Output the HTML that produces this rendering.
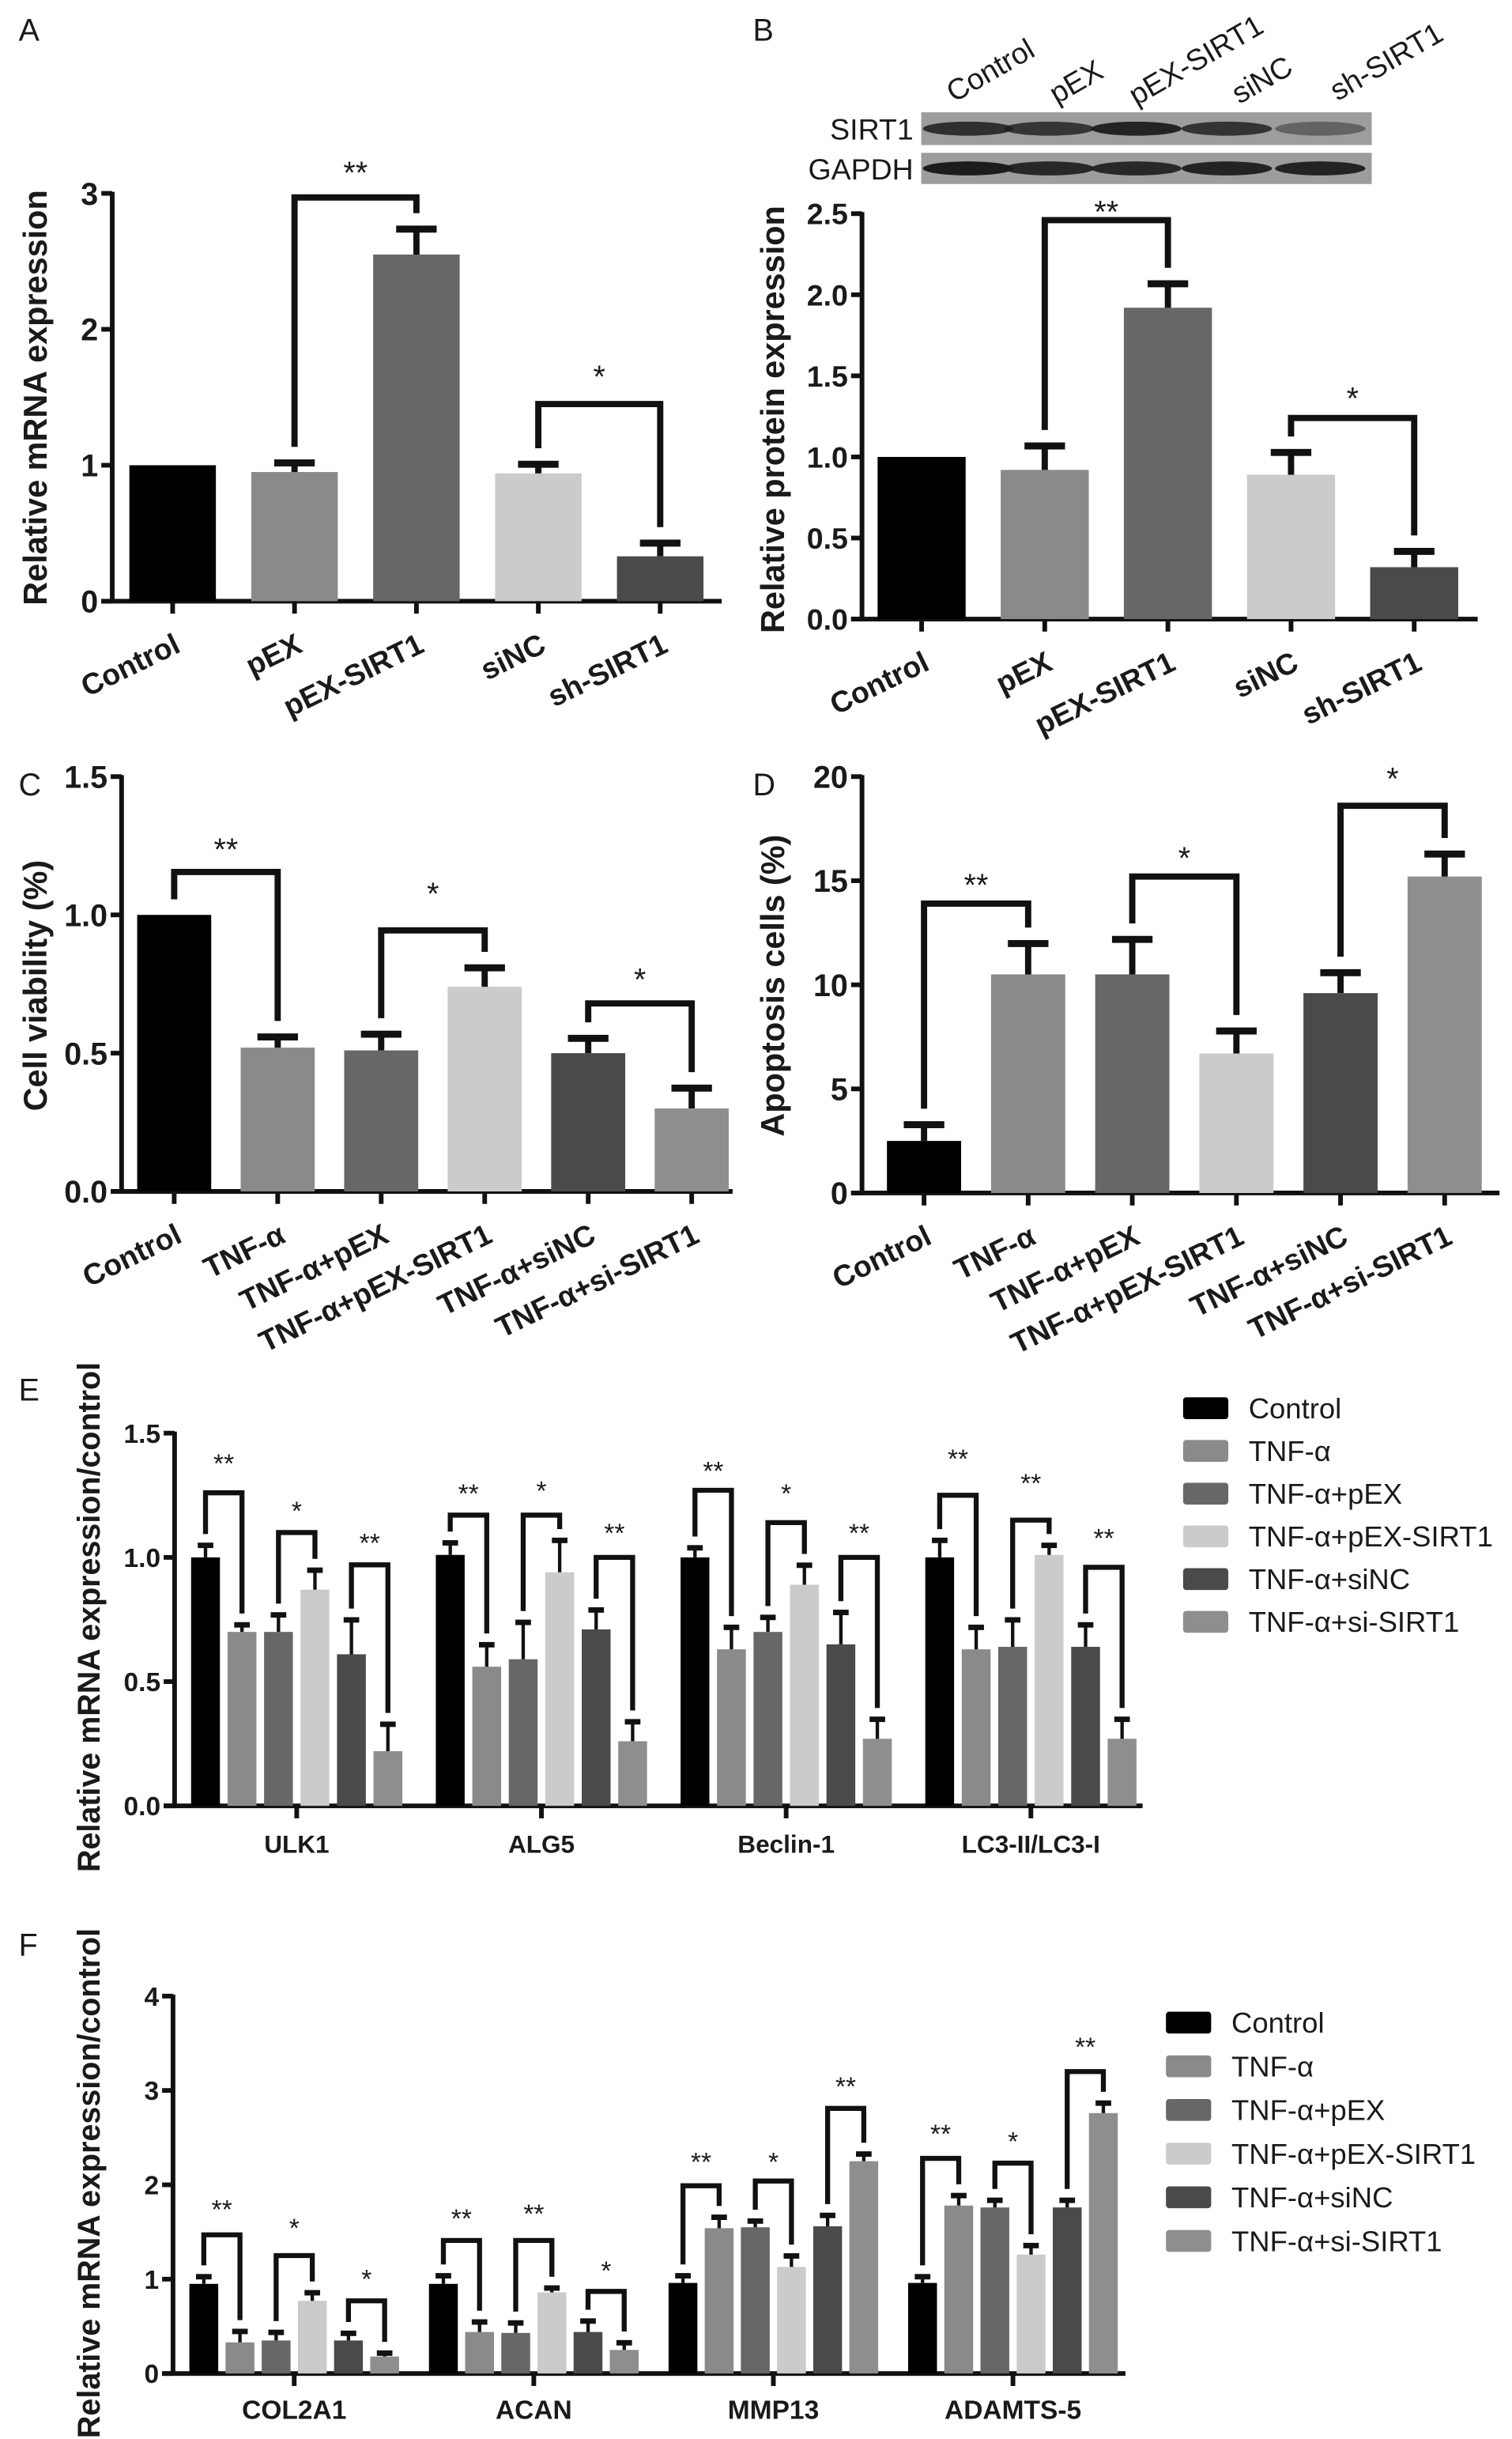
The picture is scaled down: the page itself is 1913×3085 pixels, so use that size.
<!DOCTYPE html>
<html><head><meta charset="utf-8">
<style>
html,body{margin:0;padding:0;background:#fff;}
svg{display:block;}
text{font-family:"Liberation Sans",Arial,sans-serif;fill:#1a1a1a;}
</style></head>
<body>
<svg id="fig" width="1913" height="3085" viewBox="0 0 970 1564" preserveAspectRatio="none" xmlns="http://www.w3.org/2000/svg">
<rect x="0" y="0" width="970" height="1564" fill="#fff"/>
</svg>
<script>
// ---------- DATA ----------
const catsA = ["Control","pEX","pEX-SIRT1","siNC","sh-SIRT1"];
const valsA = [1.0,0.95,2.55,0.94,0.33];
const errA  = [1.0,1.02,2.74,1.01,0.43];
const sigA  = [[1,2,2.97,3.2,"**"],[3,4,1.45,1.70,"*"]];
const ticksA = [0,1,2,3];

const catsB = ["Control","pEX","pEX-SIRT1","siNC","sh-SIRT1"];
const valsB = [1.0,0.92,1.92,0.89,0.32];
const errB  = [1.0,1.07,2.07,1.03,0.42];
const sigB  = [[1,2,2.46,2.55,"**"],[3,4,1.24,1.4,"*"]];
const ticksB = [0,0.5,1,1.5,2,2.5];

const catsC = ["Control","TNF-α","TNF-α+pEX","TNF-α+pEX-SIRT1","TNF-α+siNC","TNF-α+si-SIRT1"];
const valsC = [1.0,0.52,0.51,0.74,0.50,0.30];
const errC  = [1.0,0.56,0.57,0.81,0.555,0.375];
const sigC  = [[0,1,1.155,1.26,"**"],[2,3,0.944,1.10,"*"],[4,5,0.68,0.79,"*"]];
const ticksC = [0,0.5,1,1.5];

const catsD = ["Control","TNF-α","TNF-α+pEX","TNF-α+pEX-SIRT1","TNF-α+siNC","TNF-α+si-SIRT1"];
const valsD = [2.5,10.5,10.5,6.7,9.6,15.2];
const errD  = [3.3,12.0,12.2,7.8,10.6,16.3];
const sigD  = [[0,1,13.9,15.1,"**"],[2,3,15.2,16.4,"*"],[4,5,18.6,20.2,"*"]];
const ticksD = [0,5,10,15,20];

const seriesNames = ["Control","TNF-α","TNF-α+pEX","TNF-α+pEX-SIRT1","TNF-α+siNC","TNF-α+si-SIRT1"];

const groupsE = ["ULK1","ALG5","Beclin-1","LC3-II/LC3-I"];
const valsE = [[1.0,0.70,0.70,0.87,0.61,0.22],[1.01,0.56,0.59,0.94,0.71,0.26],[1.0,0.63,0.70,0.89,0.65,0.27],[1.0,0.63,0.64,1.01,0.64,0.27]];
const errE  = [[1.05,0.73,0.77,0.95,0.75,0.33],[1.06,0.65,0.74,1.07,0.79,0.34],[1.04,0.72,0.76,0.97,0.78,0.35],[1.07,0.72,0.75,1.05,0.73,0.35]];
const sigE  = [[[0,1,1.26,1.40,"**"],[2,3,1.10,1.21,"*"],[4,5,0.97,1.08,"**"]],
               [[0,1,1.17,1.28,"**"],[2,3,1.17,1.29,"*"],[4,5,1.00,1.12,"**"]],
               [[0,1,1.27,1.37,"**"],[2,3,1.14,1.28,"*"],[4,5,1.00,1.12,"**"]],
               [[0,1,1.25,1.42,"**"],[2,3,1.15,1.32,"**"],[4,5,0.96,1.10,"**"]]];
const ticksE = [0,0.5,1,1.5];

const groupsF = ["COL2A1","ACAN","MMP13","ADAMTS-5"];
const valsF = [[0.95,0.33,0.35,0.77,0.35,0.18],[0.95,0.44,0.43,0.86,0.44,0.25],[0.96,1.54,1.55,1.13,1.56,2.25],[0.96,1.78,1.76,1.26,1.76,2.76]];
const errF  = [[1.03,0.45,0.44,0.86,0.43,0.22],[1.04,0.55,0.54,0.91,0.56,0.33],[1.04,1.66,1.62,1.25,1.68,2.33],[1.03,1.89,1.84,1.36,1.84,2.87]];
const sigF  = [[[0,1,1.47,1.80,"**"],[2,3,1.25,1.60,"*"],[4,5,0.77,1.06,"*"]],
               [[0,1,1.41,1.70,"**"],[2,3,1.41,1.75,"**"],[4,5,0.87,1.15,"*"]],
               [[0,1,1.99,2.30,"**"],[2,3,2.04,2.30,"*"],[4,5,2.81,3.10,"**"]],
               [[0,1,2.28,2.60,"**"],[2,3,2.23,2.52,"*"],[4,5,3.20,3.52,"**"]]];
const ticksF = [0,1,2,3,4];

// ---------- RENDER ----------
const NS="http://www.w3.org/2000/svg";
const svg=document.getElementById('fig');
function mk(tag,attrs,parent,txt){const e=document.createElementNS(NS,tag);for(const k in attrs)e.setAttribute(k,attrs[k]);if(txt!==undefined)e.textContent=txt;(parent||svg).appendChild(e);return e;}
function fmt(v,dec){return dec?v.toFixed(1):String(v);}

const colSimple5=["#000","#8a8a8a","#676767","#cbcbcb","#4a4a4a"];
const col6=["#000","#8a8a8a","#676767","#cbcbcb","#4a4a4a","#8e8e8e"];

function axes(g,cfg){
  const y=v=>cfg.y0-(v/cfg.max)*(cfg.y0-cfg.yTop);
  const ax=mk('line',{x1:cfg.ax,y1:cfg.yTop-1,x2:cfg.ax,y2:cfg.y0,stroke:'#111','stroke-width':cfg.aw},g);
  
  
  const xl=mk('line',{x1:cfg.ax-7,y1:cfg.y0,x2:cfg.axEnd,y2:cfg.y0,stroke:'#111','stroke-width':cfg.aw},g);
  
  
  cfg.ticks.forEach(t=>{
    mk('line',{x1:cfg.ax-7,y1:y(t),x2:cfg.ax,y2:y(t),stroke:'#111','stroke-width':cfg.aw},g);
    const tl=mk('text',{x:cfg.ax-9,y:y(t)+cfg.tfs*0.36,'text-anchor':'end','font-size':cfg.tfs,'font-weight':cfg.tfw},g,fmt(t,cfg.dec));
    
    
  });
  return y;
}

function bracket(g,x1,x2,yb,e1,e2,gap,sw,star,ys,fs){
  mk('path',{d:`M${x1},${e1-gap} V${yb} H${x2} V${e2-gap}`,fill:'none',stroke:'#111','stroke-width':sw,'stroke-linejoin':'miter'},g);
  const s=mk('text',{x:(x1+x2)/2,y:ys+fs*0.55,'text-anchor':'middle','font-size':fs},g,star);
  
  
}

function simplePanel(name,cfg,cats,vals,errs,sigs,cols){
  const g=mk('g',{});
  
  
  const y=axes(g,cfg);
  const cx=i=>cfg.start+i*cfg.pitch+cfg.w/2;
  cats.forEach((c,i)=>{
    const b=mk('rect',{x:cfg.start+i*cfg.pitch,y:y(vals[i]),width:cfg.w,height:cfg.y0-y(vals[i]),fill:cols[i]},g);
    
    
    if(errs[i]>vals[i]+1e-9){
      mk('line',{x1:cx(i),y1:y(vals[i]),x2:cx(i),y2:y(errs[i]),stroke:'#111','stroke-width':4},g);
      mk('rect',{x:cx(i)-13,y:y(errs[i])-2,width:26,height:4.5,fill:'#111'},g);
    }
    mk('line',{x1:cx(i),y1:cfg.y0,x2:cx(i),y2:cfg.y0+8,stroke:'#111','stroke-width':cfg.aw},g);
    const t=mk('text',{x:cx(i)+6,y:cfg.y0+32,'text-anchor':'end','font-size':cfg.xfs,'font-weight':'bold',transform:`rotate(-26 ${cx(i)+6} ${cfg.y0+32})`},g,c);
    
    
  });
  sigs.forEach(s=>{
    bracket(g,cx(s[0]),cx(s[1]),y(s[2]),y(errs[s[0]]),y(errs[s[1]]),10,4,s[4],y(s[3]),20);
  });
  const yt=mk('text',{x:cfg.tx,y:cfg.ty,'text-anchor':'middle','font-size':cfg.tfsz,'font-weight':'bold',transform:`rotate(-90 ${cfg.tx} ${cfg.ty})`},g,cfg.title);
  
  
  return g;
}

function groupPanel(name,cfg,groups,vals,errs,sigs){
  const g=mk('g',{});
  
  
  const y=axes(g,cfg);
  groups.forEach((gn,gi)=>{
    const bx=i=>cfg.start+gi*cfg.step+i*cfg.pitch;
    const cx=i=>bx(i)+cfg.w/2;
    vals[gi].forEach((v,i)=>{
      const b=mk('rect',{x:bx(i),y:y(v),width:cfg.w,height:cfg.y0-y(v),fill:col6[i]},g);
      
      
      mk('line',{x1:cx(i),y1:y(v),x2:cx(i),y2:y(errs[gi][i]),stroke:'#111','stroke-width':2.2},g);
      mk('rect',{x:cx(i)-5,y:y(errs[gi][i])-1.5,width:10,height:3.5,fill:'#111'},g);
    });
    const gc=(cx(0)+cx(5))/2;
    mk('line',{x1:gc,y1:cfg.y0,x2:gc,y2:cfg.y0+8,stroke:'#111','stroke-width':cfg.aw},g);
    const t=mk('text',{x:gc,y:cfg.gy,'text-anchor':'middle','font-size':cfg.gfs,'font-weight':'bold'},g,gn);
    
    
    sigs[gi].forEach(s=>{
      bracket(g,cx(s[0]),cx(s[1]),y(s[2]),y(errs[gi][s[0]]),y(errs[gi][s[1]]),7,3.2,s[4],y(s[3]),17);
    });
  });
  const yt=mk('text',{x:cfg.tx,y:cfg.ty,'text-anchor':'middle','font-size':20,'font-weight':'bold',transform:`rotate(-90 ${cfg.tx} ${cfg.ty})`},g,cfg.title);
  
  
  // legend
  seriesNames.forEach((n,i)=>{
    const ly=cfg.ly+i*cfg.lstep;
    const sw=mk('rect',{x:cfg.lx,y:ly-7,width:29,height:14,rx:2,fill:col6[i]},g);
    
    
    const lt=mk('text',{x:cfg.lx+42,y:ly+6.5,'font-size':18.5},g,n);
    
    
  });
  return g;
}

// panel letters
[["A",12,26],["B",483,26],["C",12,510],["D",483,510],["E",12,898],["F",12,1254]].forEach(p=>{
  const t=mk('text',{x:p[1],y:p[2],'font-size':20},svg,p[0]);
  
  
});

simplePanel('panel-a-mrna',{ax:72,axEnd:463,y0:385.5,yTop:124,max:3,ticks:ticksA,dec:false,tfs:20,tfw:'bold',aw:3,start:83,pitch:78.2,w:55.5,xfs:19,tx:30,ty:255,tfsz:21,title:"Relative mRNA expression"},catsA,valsA,errA,sigA,colSimple5);
simplePanel('panel-b-protein',{ax:553,axEnd:948,y0:397,yTop:137,max:2.5,ticks:ticksB,dec:true,tfs:19,tfw:'bold',aw:3,start:563,pitch:79,w:56.5,xfs:19,tx:503,ty:269,tfsz:21,title:"Relative protein expression"},catsB,valsB,errB,sigB,colSimple5);
simplePanel('panel-c-viability',{ax:78,axEnd:470,y0:764,yTop:498,max:1.5,ticks:ticksC,dec:true,tfs:20,tfw:'bold',aw:3,start:88,pitch:66.4,w:47.5,xfs:19,tx:30,ty:632,tfsz:21,title:"Cell viability (%)"},catsC,valsC,errC,sigC,col6);
simplePanel('panel-d-apoptosis',{ax:553,axEnd:962,y0:765,yTop:498,max:20,ticks:ticksD,dec:false,tfs:20,tfw:'bold',aw:3,start:569,pitch:66.8,w:47.6,xfs:19,tx:503,ty:632,tfsz:21,title:"Apoptosis cells (%)"},catsD,valsD,errD,sigD,col6);

// western blot
(function(){
  const g=mk('g',{});
  
  
  const lanes=[621,673,729,787,847];
  const sirtInt=[0.85,0.8,0.95,0.82,0.45];
  [[72,93,"SIRT1",sirtInt],[98,118,"GAPDH",[1,0.9,0.9,0.95,0.95]]].forEach(r=>{
    mk('rect',{x:591,y:r[0],width:289,height:r[1]-r[0],fill:'#9d9d9d'},g);
    const t=mk('text',{x:586,y:(r[0]+r[1])/2+7,'text-anchor':'end','font-size':19},g,r[2]);
    
    
    lanes.forEach((lx,i)=>{
      mk('ellipse',{cx:lx,cy:(r[0]+r[1])/2,rx:29,ry:4.5,fill:'#1c1c1c','fill-opacity':r[3][i]},g);
    });
  });
  [["Control",612,66],["pEX",678,67],["pEX-SIRT1",729,68],["siNC",795,67],["sh-SIRT1",858,65]].forEach(l=>{
    const t=mk('text',{x:l[1],y:l[2],'font-size':19,transform:`rotate(-30 ${l[1]} ${l[2]})`},g,l[0]);
    
    
  });
})();

groupPanel('panel-e-autophagy',{ax:112,axEnd:733,y0:1158,yTop:919,max:1.5,ticks:ticksE,dec:true,tfs:17,tfw:'bold',aw:3,start:122.6,step:157,pitch:23.4,w:18.5,gy:1188,gfs:16,tx:64,ty:1037,title:"Relative mRNA expression/control",lx:759,ly:903,lstep:27.4},groupsE,valsE,errE,sigE);
groupPanel('panel-f-matrix',{ax:111,axEnd:722,y0:1522,yTop:1280,max:4,ticks:ticksF,dec:false,tfs:17,tfw:'bold',aw:3,start:121.5,step:153.7,pitch:23.2,w:18.5,gy:1551,gfs:17,tx:64,ty:1400,title:"Relative mRNA expression/control",lx:748,ly:1297,lstep:28},groupsF,valsF,errF,sigF);
</script>
</body></html>
